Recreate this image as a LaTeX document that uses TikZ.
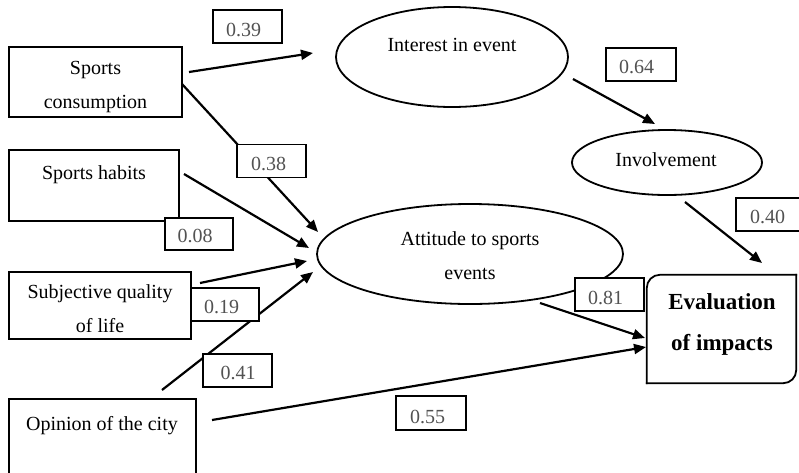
\documentclass[tikz,border=0pt]{standalone}
\usepackage{fontspec}
\setmainfont{Liberation Serif}
\usetikzlibrary{arrows.meta,shapes.geometric}
\begin{document}
\begin{tikzpicture}[x=1pt,y=-1pt,
  mainbox/.style={draw, line width=1.8pt, inner sep=0pt},
  oval/.style={draw, ellipse, line width=1.8pt, inner sep=0pt},
  lbl/.style={draw, line width=1.6pt, fill=white, inner sep=0pt, minimum width=69pt, minimum height=33pt},
  num/.style={anchor=base, inner sep=0pt, text=black!68, font=\fontsize{20}{24}\selectfont},
  txt/.style={anchor=base, inner sep=0pt, font=\fontsize{20}{24}\selectfont},
  boldtxt/.style={anchor=base, inner sep=0pt, font=\fontsize{23}{27}\selectfont\bfseries},
  arr/.style={line width=2.2pt, -{Triangle[length=12pt,width=10pt]}}
]
\useasboundingbox (0,0) rectangle (799,472);
\clip (0,0) rectangle (799,472);

% main boxes
\node[mainbox, minimum width=173pt, minimum height=70pt] (sc) at (95.5,82) {};
\node[mainbox, minimum width=170pt, minimum height=71pt] (sh) at (94,185.5) {};
\node[mainbox, minimum width=182pt, minimum height=67pt] (sq) at (100,305.5) {};
\node[mainbox, minimum width=187pt, minimum height=101pt] (oc) at (102.5,449.5) {};
\node[inner sep=0pt, minimum width=149pt, minimum height=108pt] (ev) at (721.5,329) {};
\draw[line width=1.8pt, rounded corners=13pt, line cap=rect] (ev.south west) -- (ev.north west) -- (ev.north east);
\draw[line width=1.8pt, rounded corners=13pt, line cap=rect] (ev.north east) -- (ev.south east) -- (ev.south west);

% ellipses
\node[oval, minimum width=232pt, minimum height=100pt] (ie) at (452,57) {};
\node[oval, minimum width=190pt, minimum height=65pt] (inv) at (667,162.5) {};
\node[oval, minimum width=306pt, minimum height=100pt] (att) at (470,254) {};

% connector end points
\coordinate (a1s) at (189,72);  \coordinate (a1e) at (313,53);
\coordinate (a2s) at (182,84);  \coordinate (a2e) at (318,232);
\coordinate (a3s) at (184,174); \coordinate (a3e) at (309,248);
\coordinate (a4s) at (200,283); \coordinate (a4e) at (307,261);
\coordinate (a5s) at (162,390); \coordinate (a5e) at (313,272);
\coordinate (a6s) at (212,420); \coordinate (a6e) at (646,347);
\coordinate (a7s) at (540,303); \coordinate (a7e) at (645,338);
\coordinate (a8s) at (573,79);  \coordinate (a8e) at (655,124);
\coordinate (a9s) at (685,202); \coordinate (a9e) at (762,263);

\draw[arr] (a1s) -- (a1e);
\draw[arr] (a2s) -- (a2e);
\draw[arr] (a3s) -- (a3e);
\draw[arr] (a4s) -- (a4e);
\draw[arr] (a5s) -- (a5e);
\draw[arr] (a6s) -- (a6e);
\draw[arr] (a7s) -- (a7e);
\draw[arr] (a8s) -- (a8e);
\draw[arr] (a9s) -- (a9e);

% label boxes
\node[lbl] (l39) at (247.5,26.5) {};
\node[lbl] (l38) at (271.5,161) {};
\node[lbl, minimum width=68pt, minimum height=32pt] (l08) at (199,234) {};
\node[lbl, minimum width=68pt] (l19) at (225,304.5) {};
\node[lbl] (l41) at (237.5,370.5) {};
\node[lbl, minimum width=70pt] (l64) at (641,64.5) {};
\node[lbl, minimum width=70pt] (l40) at (771,214.5) {};
\node[lbl] (l81) at (609.5,294.5) {};
\node[lbl, minimum width=70pt, minimum height=34pt] (l55) at (431,413) {};

\node[num] (n39) at (243.5,36) {0.39};
\node[num] (n38) at (268.5,170) {0.38};
\node[num] (n08) at (195,242) {0.08};
\node[num] (n19) at (221.5,313) {0.19};
\node[num] (n41) at (238,379) {0.41};
\node[num] (n64) at (636.5,73) {0.64};
\node[num] (n40) at (767.5,223) {0.40};
\node[num] (n81) at (605.5,304) {0.81};
\node[num] (n55) at (427.5,423) {0.55};

% texts
\node[txt] (t1a) at (95.5,74) {Sports};
\node[txt] (t1b) at (95.5,108) {consumption};
\node[txt] (t2) at (94,179) {Sports habits};
\node[txt] (t3a) at (100,298) {Subjective quality};
\node[txt] (t3b) at (100,332) {of life};
\node[txt] (t4) at (102,430) {Opinion of the city};
\node[txt] (t5) at (452,51) {Interest in event};
\node[txt] (t6) at (666,166) {Involvement};
\node[txt] (t7a) at (470,245) {Attitude to sports};
\node[txt] (t7b) at (470,279) {events};
\node[boldtxt] (t8a) at (722,309) {Evaluation};
\node[boldtxt] (t8b) at (722,350) {of impacts};
\end{tikzpicture}
\end{document}
